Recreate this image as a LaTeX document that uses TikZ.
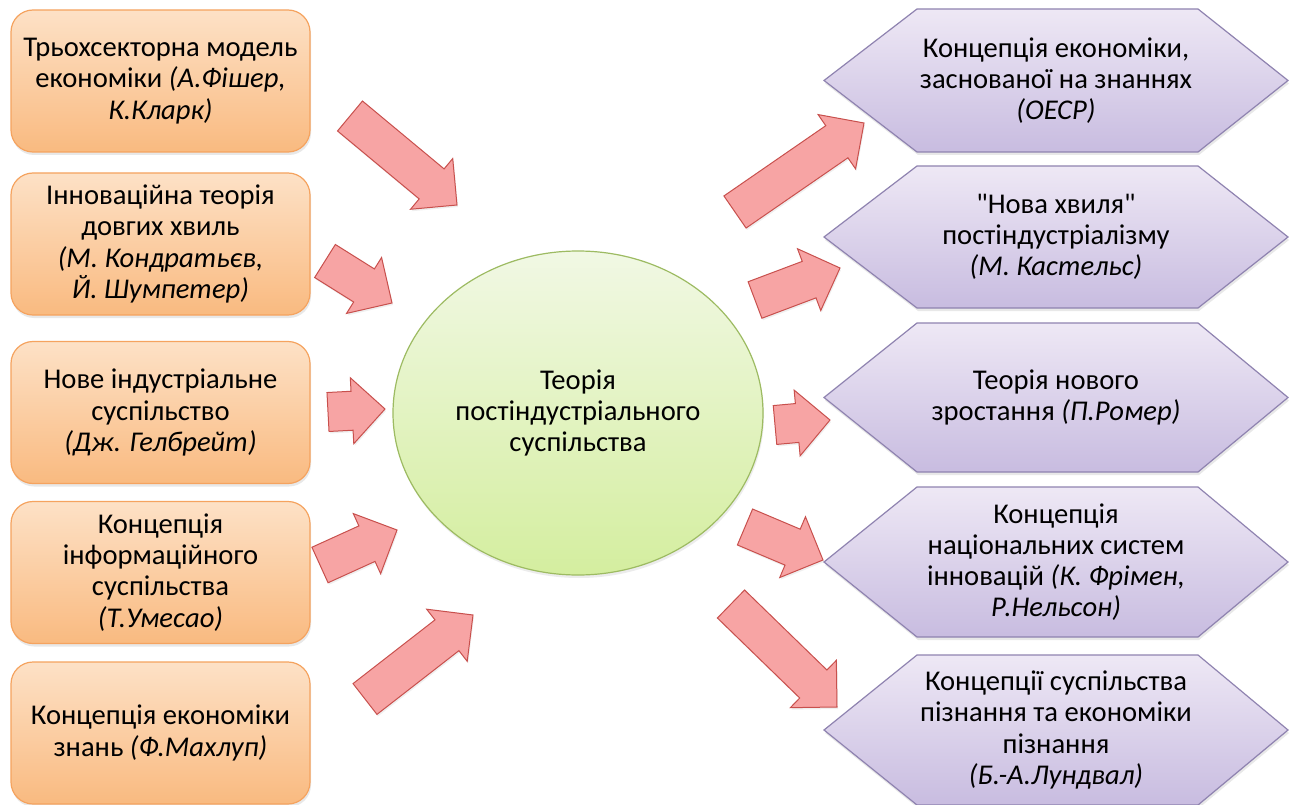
\documentclass[tikz,border=0pt]{standalone}
\usepackage{fontspec}
\setmainfont{Carlito}
\usetikzlibrary{shapes.geometric,calc,shadows}
\definecolor{boxtop}{HTML}{FDE1C6}
\definecolor{boxbot}{HTML}{F9BA80}
\definecolor{boxline}{HTML}{F5A35F}
\definecolor{hextop}{HTML}{EEE8F5}
\definecolor{hexbot}{HTML}{C8BCE0}
\definecolor{hexline}{HTML}{8F83B0}
\definecolor{elltop}{HTML}{F1F8E4}
\definecolor{ellbot}{HTML}{D4EE9F}
\definecolor{ellline}{HTML}{9DBB62}
\definecolor{arrfill}{HTML}{F7A4A4}
\definecolor{arrline}{HTML}{C8504D}
\newcommand\blockarrow[2]{%
  \draw[barrow] ($(#1)!19.5pt!90:(#2)$) -- ($(#2)!33pt!(#1)!19.5pt!90:(#2)$)
    -- ($(#2)!33pt!(#1)!33pt!90:(#2)$) -- (#2)
    -- ($(#2)!33pt!(#1)!33pt!-90:(#2)$) -- ($(#2)!33pt!(#1)!19.5pt!-90:(#2)$)
    -- ($(#1)!19.5pt!-90:(#2)$) -- cycle;}
\newcommand\hexagon[4]{%
  \draw[hexsty] (824,#2) -- (917,#2-#3) -- (1198,#2-#3) -- (1288,#2)
    -- (1198,#2+#3) -- (917,#2+#3) -- cycle;
  \node[txt] (#1) at (1056,#2) {#4};}
\newcommand\qq{{\addfontfeatures{Ligatures=TeXOff}"}}
\begin{document}
\begin{tikzpicture}[x=1pt,y=-1pt,
  txt/.style={align=center,font=\fontsize{28.6}{31.2}\selectfont,inner sep=0pt},
  lbox/.style={txt,rounded corners=22pt,minimum width=299pt,minimum height=142pt,
    draw=boxline,line width=1.2pt,top color=boxtop,bottom color=boxbot,
    drop shadow={opacity=0.18,shadow xshift=1pt,shadow yshift=-3pt}},
  hexsty/.style={draw=hexline,line width=1.2pt,top color=hextop,bottom color=hexbot,
    drop shadow={opacity=0.18,shadow xshift=1pt,shadow yshift=-3pt}},
  barrow/.style={draw=arrline,line width=1pt,fill=arrfill,line join=miter,
    drop shadow={opacity=0.12,shadow xshift=1pt,shadow yshift=-2pt}},
  ellsty/.style={txt,ellipse,minimum width=370pt,minimum height=324pt,
    draw=ellline,line width=1.2pt,top color=elltop,bottom color=ellbot,
    drop shadow={opacity=0.15,shadow xshift=1pt,shadow yshift=-3pt}}]
\fill[white] (0,0) rectangle (1296,805);
\useasboundingbox (0,0) rectangle (1296,805);

% left boxes
\node[lbox] (b1) at (160.5,81) {Трьохсекторна модель\\економіки \textit{(А.Фішер,}\\\textit{К.Кларк)}};
\node[lbox] (b2) at (160.5,244) {Інноваційна теорія\\довгих хвиль\\\textit{(М. Кондратьєв,}\\\textit{Й. Шумпетер)}};
\node[lbox] (b3) at (160.5,412.5) {Нове індустріальне\\суспільство\\\textit{(Дж. Гелбрейт)}};
\node[lbox] (b4) at (160.5,572.5) {Концепція\\інформаційного\\суспільства\\\textit{(Т.Умесао)}};
\node[lbox] (b5) at (160.5,733) {Концепція економіки\\знань \textit{(Ф.Махлуп)}};

% centre
\node[ellsty] (c) at (578,413) {Теорія\\постіндустріального\\суспільства};

% right hexagons
\hexagon{h1}{80.5}{71.5}{Концепція економіки,\\заснованої на знаннях\\\textit{(ОЕСР)}}
\hexagon{h2}{237}{71}{\qq Нова хвиля\qq\\постіндустріалізму\\\textit{(М. Кастельс)}}
\hexagon{h3}{397.5}{74.5}{Теорія нового\\зростання \textit{(П.Ромер)}}
\hexagon{h4}{562}{75}{Концепція\\національних систем\\інновацій \textit{(К. Фрімен,}\\\textit{Р.Нельсон)}}
\hexagon{h5}{730}{75}{Концепції суспільства\\пізнання та економіки\\пізнання\\\textit{(Б.-А.Лундвал)}}

% arrow ends
\coordinate (a1s) at (350,116); \coordinate (a1e) at (457,205);
\coordinate (a2s) at (325,261); \coordinate (a2e) at (392,303);
\coordinate (a3s) at (328,412); \coordinate (a3e) at (385,409);
\coordinate (a4s) at (320,565); \coordinate (a4e) at (397,530);
\coordinate (a5s) at (365,699); \coordinate (a5e) at (473,615);
\coordinate (r1s) at (735,212); \coordinate (r1e) at (864,123);
\coordinate (r2s) at (755,300); \coordinate (r2e) at (840,268);
\coordinate (r3s) at (775,425); \coordinate (r3e) at (830,420);
\coordinate (r4s) at (745,527); \coordinate (r4e) at (823,560);
\coordinate (r5s) at (731,604); \coordinate (r5e) at (837,707);

\blockarrow{a1s}{a1e}
\blockarrow{a2s}{a2e}
\blockarrow{a3s}{a3e}
\blockarrow{a4s}{a4e}
\blockarrow{a5s}{a5e}
\blockarrow{r1s}{r1e}
\blockarrow{r2s}{r2e}
\blockarrow{r3s}{r3e}
\blockarrow{r4s}{r4e}
\blockarrow{r5s}{r5e}
\end{tikzpicture}
\end{document}
